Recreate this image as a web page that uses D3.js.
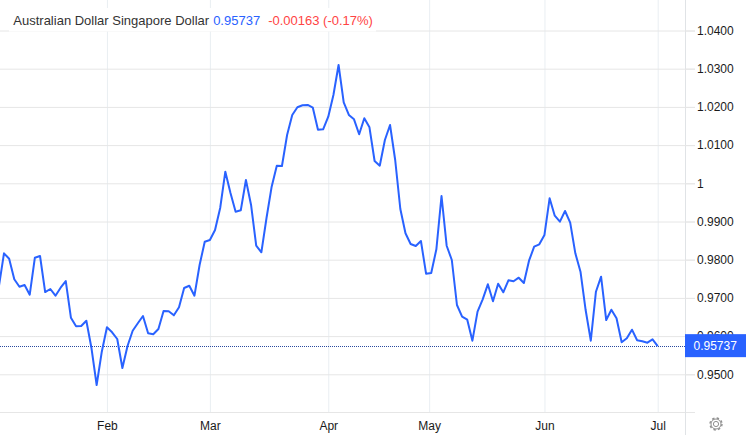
<!doctype html>
<html lang="en">
<head>
  <meta charset="utf-8">
  <title>Australian Dollar Singapore Dollar</title>
  <style>
html, body { margin: 0; padding: 0; background: #fff; }
svg { display: block; }
text { font-family: "Liberation Sans", Arial, sans-serif; }
.grid path { display: none; }
.grid text { display: none; }
.grid.y line { stroke: #e6e6e6; }
.grid.x line { stroke: #e9eef2; }
.axis path { display: none; }
.axis line { stroke: #e6e6e6; }
.axis text { font-size: 12px; fill: #1a1a1a; }
  </style>
</head>
<body>
  <script src="https://d3js.org/d3.v7.min.js"></script>
  <script>
// daily closes, one per trading day
var closes = [
  0.97293, 0.98167, 0.98026, 0.97487, 0.97293, 0.97338, 0.97084, 0.98052, 0.98097, 0.97154,
  0.97233, 0.97058, 0.97267, 0.97442, 0.96482, 0.96257, 0.96264, 0.96403, 0.95681, 0.94720,
  0.95592, 0.96230, 0.96100, 0.95924, 0.95165, 0.95741, 0.96141, 0.96335, 0.96526, 0.96073,
  0.96047, 0.96186, 0.96657, 0.96649, 0.96544, 0.96754, 0.97259, 0.97319, 0.97058, 0.97861,
  0.98471, 0.98516, 0.98777, 0.99353, 1.00304, 0.99746, 0.99257, 0.99293, 1.00086, 0.99432,
  0.98366, 0.98194, 0.99092, 0.99911, 1.00461, 1.00453, 1.01264, 1.01788, 1.01990, 1.02042,
  1.02050, 1.01979, 1.01403, 1.01414, 1.01743, 1.02312, 1.03097, 1.02120, 1.01788, 1.01675,
  1.01283, 1.01702, 1.01466, 1.00584, 1.00461, 1.01134, 1.01526, 1.00610, 0.99327, 0.98691,
  0.98411, 0.98359, 0.98489, 0.97634, 0.97652, 0.98272, 0.99668, 0.98366, 0.97992, 0.96814,
  0.96508, 0.96429, 0.95880, 0.96639, 0.96963, 0.97356, 0.96911, 0.97372, 0.97147, 0.97461,
  0.97435, 0.97529, 0.97390, 0.97974, 0.98340, 0.98403, 0.98647, 0.99607, 0.99152, 0.98995,
  0.99275, 0.98969, 0.98167, 0.97686, 0.96683, 0.95880, 0.97162, 0.97555, 0.96421, 0.96691,
  0.96466, 0.95838, 0.95942, 0.96168, 0.95890, 0.95864, 0.95827, 0.95916, 0.95737
];
var monthLabels = ['Feb', 'Mar', 'Apr', 'May', 'Jun', 'Jul'];
var monthIndex = [21, 41, 64, 83.6, 106, 128];
var priceTicks = [0.95, 0.96, 0.97, 0.98, 0.99, 1, 1.01, 1.02, 1.03, 1.04];
var lastPrice = 0.95737;

var width = 746, height = 441;
var plotRight = 685, plotBottom = 412;
var blue = '#2962ff';

var x = d3.scaleLinear().domain([0, closes.length - 1]).range([-1.15, 657.7]);
var y = d3.scaleLinear().domain([0.95, 1]).range([374.3, 183.3]);

var fmt = function(d) { return d === 1 ? '1' : d.toFixed(4); };

var svg = d3.select('body').append('svg')
    .attr('width', width)
    .attr('height', height);

// gridlines
svg.append('g')
    .attr('class', 'grid x')
    .attr('transform', 'translate(0,' + plotBottom + ')')
    .call(d3.axisTop(x).tickValues(monthIndex).tickSize(plotBottom));

svg.append('g')
    .attr('class', 'grid y')
    .attr('transform', 'translate(695,0)')
    .call(d3.axisLeft(y).tickValues(priceTicks).tickSize(695));

// bottom line of the plot
svg.append('line')
    .attr('x1', 0).attr('x2', 695)
    .attr('y1', plotBottom + 0.5).attr('y2', plotBottom + 0.5)
    .attr('stroke', '#e6e6e6');

// right edge
svg.append('line')
    .attr('x1', plotRight + 0.5).attr('x2', plotRight + 0.5)
    .attr('y1', 0).attr('y2', 435)
    .attr('stroke', '#e0e3e6');

svg.append('g')
    .attr('class', 'axis')
    .attr('transform', 'translate(0,' + (plotBottom + 1) + ')')
    .call(d3.axisBottom(x).tickValues(monthIndex).tickSize(0).tickPadding(8)
      .tickFormat(function(d, i) { return monthLabels[i]; }));

svg.append('g')
    .attr('class', 'axis')
    .attr('transform', 'translate(' + plotRight + ',0)')
    .call(d3.axisRight(y).tickValues(priceTicks).tickSize(10).tickPadding(2).tickFormat(fmt));

// current price, dotted
svg.append('line')
    .attr('x1', 0).attr('x2', plotRight)
    .attr('y1', 346.5).attr('y2', 346.5)
    .attr('stroke', '#2a4a9e')
    .attr('stroke-width', 1)
    .attr('stroke-dasharray', '1,1')
    .attr('shape-rendering', 'crispEdges');

var line = d3.line()
    .x(function(d, i) { return x(i); })
    .y(function(d) { return y(d); });

svg.append('path')
    .datum(closes)
    .attr('fill', 'none')
    .attr('stroke', blue)
    .attr('stroke-width', 2)
    .attr('stroke-linejoin', 'round')
    .attr('d', line);

// price label on the axis
svg.append('rect')
    .attr('x', plotRight)
    .attr('y', y(lastPrice) - 12)
    .attr('width', width - plotRight)
    .attr('height', 23)
    .attr('fill', blue);

svg.append('text')
    .attr('x', 693.5)
    .attr('y', y(lastPrice) + 4.3)
    .attr('font-size', 12)
    .attr('fill', '#fff')
    .text(d3.format('.5f')(lastPrice));

// legend
svg.append('rect')
    .attr('x', 9).attr('y', 8)
    .attr('width', 367).attr('height', 23.5)
    .attr('fill', '#fff');

var legend = svg.append('text')
    .attr('x', 13.3)
    .attr('y', 25.3)
    .attr('font-size', 13);

legend.append('tspan').attr('fill', '#333').text('Australian Dollar Singapore Dollar');
legend.append('tspan').attr('dx', 4).attr('fill', blue).text('0.95737');
legend.append('tspan').attr('dx', 8).attr('fill', '#ff4444').text('-0.00163 (-0.17%)');

// settings gear
var gear = svg.append('g').attr('transform', 'translate(716,424)')
    .attr('fill', 'none').attr('stroke', '#8f8f8f');
gear.append('circle').attr('r', 2.6).attr('stroke-width', 1);
gear.append('circle').attr('r', 5).attr('stroke-width', 1);
gear.append('circle').attr('r', 6).attr('stroke-width', 1.4).attr('stroke-dasharray', '2.4,2.31');
  </script>
</body>
</html>
